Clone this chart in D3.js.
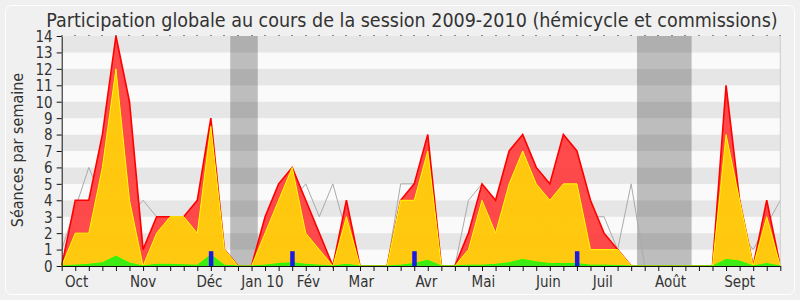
<!DOCTYPE html>
<html>
<head>
<meta charset="utf-8">
<script src="https://cdn.jsdelivr.net/npm/d3@7"></script>
<style>
  body { margin: 0; background: #f0f0f0; }
  svg text { font-family: "DejaVu Sans Condensed", "DejaVu Sans", sans-serif; fill: #333; }
</style>
</head>
<body>
<div id="chart"></div>
<script>
// weekly values, one per week of the session (week 0 = end of Sept 2009)
const presences = [0, 4, 4, 8, 14, 10, 1, 3, 3, 3, 4, 9, 1, 0, 0, 3, 5, 6, 4, 2, 0, 4, 0, 0, 0, 4, 5, 8, 0, 0,
  2, 5, 4, 7, 8, 6, 5, 8, 7, 4, 2, 1, 0, 0, 0, 0, 0, 0, 0, 11, 4, 0, 4, 0];
const hemicycle = [0, 2, 2, 6, 12, 4, 0, 2, 3, 3, 2, 8.5, 1, 0, 0, 2, 4, 6, 2, 1, 0, 3, 0, 0, 0, 4, 4, 7, 0, 0,
  1, 4, 2, 5, 7, 5, 4, 5, 5, 1, 1, 1, 0, 0, 0, 0, 0, 0, 0, 8, 4, 0, 3, 0];
const interventions = [0, 0.05, 0.1, 0.2, 0.6, 0.18, 0, 0.1, 0.1, 0.07, 0.05, 0.68, 0.05, 0, 0, 0.05, 0.15, 0.2, 0.1, 0.05,
  0, 0.1, 0, 0, 0, 0.05, 0.15, 0.35, 0, 0, 0.05, 0.05, 0.1, 0.2, 0.4, 0.25, 0.15, 0.15, 0.15, 0.05,
  0.05, 0.03, 0, 0, 0, 0, 0, 0, 0, 0.4, 0.3, 0, 0.15, 0];
const questions = [0, 0, 0, 0, 0, 0, 0, 0, 0, 0, 0, 0.9, 0, 0, 0, 0, 0, 0.9, 0, 0, 0, 0, 0, 0, 0, 0, 0.9, 0, 0, 0,
  0, 0, 0, 0, 0, 0, 0, 0, 0.9, 0, 0, 0, 0, 0, 0, 0, 0, 0, 0, 0, 0, 0, 0, 0];
const mediane = [1, 3.5, 6, 4, 5, 3, 4, 3, 2, 3, 3, 5, 1, 0, 0, 2, 3, 4, 5, 3, 5, 2, 0, 0, 0, 5, 5, 5, 0, 0,
  4, 5, 3, 4, 4, 3, 2, 3, 3, 3, 3, 1, 5, 0, 0, 0, 0, 0, 0, 1, 2, 1, 2.5, 4];

const vacances = [[12.43, 14.46], [42.43, 46.46]];
const monthLabels = ['Oct', 'Nov', 'Déc', 'Jan 10', 'Fév', 'Mar', 'Avr', 'Mai', 'Juin', 'Juil', 'Août', 'Sept'];
const monthWeeks = [1.1, 6, 10.9, 14.8, 18.2, 22.1, 26.9, 31.1, 35.9, 39.9, 44.9, 50];
const yTicks = d3.range(0, 15);

const width = 800;
const height = 300;
const plot = {left: 61.7, right: 780.3, top: 36, bottom: 266};
const weeks = d3.range(presences.length);

const x = d3.scaleLinear()
  .domain([0, weeks.length - 1])
  .range([plot.left, plot.right]);
const y = d3.scaleLinear()
  .domain([0, 14])
  .range([plot.bottom, plot.top]);

const svg = d3.select('#chart').append('svg')
  .attr('width', width)
  .attr('height', height)
  .style('display', 'block');

svg.append('rect')
  .attr('width', width).attr('height', height)
  .attr('fill', '#f0f0f0');
svg.append('rect')
  .attr('x', 5.5).attr('y', 5.5)
  .attr('width', width - 11).attr('height', height - 11)
  .attr('rx', 6)
  .attr('fill', '#f0f0f0')
  .attr('stroke', '#ffffff');

// alternating stripes
svg.selectAll('.stripe')
    .data(d3.range(0, 14))
  .enter().append('rect')
    .attr('class', 'stripe')
    .attr('x', plot.left)
    .attr('y', d => y(d + 1))
    .attr('width', plot.right - plot.left)
    .attr('height', d => y(d) - y(d + 1))
    .attr('fill', d => d % 2 ? '#e6e6e6' : '#fafafa');

svg.selectAll('.vac')
    .data(vacances)
  .enter().append('rect')
    .attr('class', 'vac')
    .attr('x', d => x(d[0]))
    .attr('y', plot.top)
    .attr('width', d => x(d[1]) - x(d[0]))
    .attr('height', plot.bottom - plot.top)
    .attr('fill', 'rgb(50,50,50)')
    .attr('fill-opacity', 0.3);

const line = d3.line()
  .x((d, i) => x(i))
  .y(d => y(d));
const area = d3.area()
  .x((d, i) => x(i))
  .y0(y(0))
  .y1(d => y(d));

svg.append('path')
  .datum(mediane)
  .attr('d', line)
  .attr('fill', 'none')
  .attr('stroke', '#aaa')
  .attr('stroke-width', 1);

const layers = [
  {data: presences, fill: '#ff3c3c', stroke: '#ff0000', sw: 1.6},
  {data: hemicycle, fill: '#ffd40a', stroke: '#ffff00', sw: 1},
  {data: interventions, fill: '#2eee12', stroke: '#22ff00', sw: 1}
];
layers.forEach(function(l) {
  svg.append('path')
    .datum(l.data)
    .attr('d', area)
    .attr('fill', l.fill)
    .attr('fill-opacity', 0.92);
  svg.append('path')
    .datum(l.data)
    .attr('d', line)
    .attr('fill', 'none')
    .attr('stroke', l.stroke)
    .attr('stroke-width', l.sw);
});

svg.selectAll('.question')
    .data(weeks.filter(i => questions[i] > 0))
  .enter().append('rect')
    .attr('class', 'question')
    .attr('x', i => x(i) - 2)
    .attr('y', i => y(questions[i]))
    .attr('width', 4.5)
    .attr('height', i => y(0) - y(questions[i]))
    .attr('fill', '#1a1ae0');

// right border
svg.append('line')
  .attr('x1', plot.right).attr('x2', plot.right)
  .attr('y1', plot.top).attr('y2', plot.bottom)
  .attr('stroke', '#ccc');

// top dots
svg.selectAll('.dot')
    .data(weeks)
  .enter().append('rect')
    .attr('class', 'dot')
    .attr('x', i => Math.round(x(i)) - 0.5)
    .attr('y', plot.top - 1)
    .attr('width', 1)
    .attr('height', 1)
    .attr('fill', '#222');

const yAxis = d3.axisLeft(y)
  .tickValues(yTicks)
  .tickFormat(d3.format('d'))
  .tickSize(5)
  .tickSizeOuter(0);
const gy = svg.append('g')
  .attr('transform', 'translate(' + plot.left + ',0)')
  .call(yAxis);
gy.selectAll('text')
  .style('font-size', '15px')
  .attr('x', -9)
  .attr('dy', '0.36em');

const xAxis = d3.axisBottom(x)
  .tickValues(weeks)
  .tickFormat('')
  .tickSize(5)
  .tickSizeOuter(0);
svg.append('g')
  .attr('transform', 'translate(0,' + plot.bottom + ')')
  .call(xAxis);

svg.selectAll('.domain, .tick line').attr('stroke', '#111');

svg.selectAll('.month')
    .data(monthLabels)
  .enter().append('text')
    .attr('class', 'month')
    .attr('x', (d, i) => x(monthWeeks[i]))
    .attr('y', 287)
    .attr('text-anchor', 'middle')
    .style('font-size', '15px')
    .text(d => d);

svg.append('text')
  .attr('transform', 'translate(23,150) rotate(-90)')
  .attr('text-anchor', 'middle')
  .style('font-size', '16px')
  .text('Séances par semaine');

svg.append('text')
  .attr('x', 412)
  .attr('y', 27)
  .attr('text-anchor', 'middle')
  .style('font-size', '19.5px')
  .text('Participation globale au cours de la session 2009-2010 (hémicycle et commissions)');
</script>
</body>
</html>
